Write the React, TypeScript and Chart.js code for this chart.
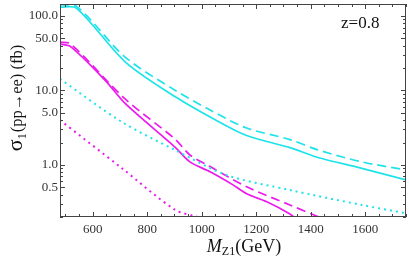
import React, { useEffect, useRef } from "react";
import { Chart, registerables } from "chart.js";

Chart.register(...registerables);

// Mass values (GeV) and cross sections (fb) per curve
const cyanSolidM = [480, 541, 719, 902, 1031, 1165, 1324, 1427, 1588, 1750];
const cyanSolidV = [132, 127, 24.3, 8.28, 4.4, 2.48, 1.71, 1.26, 0.9, 0.63];

const cyanDashM = [480, 542, 719, 902, 1031, 1165, 1324, 1427, 1588, 1750];
const cyanDashV = [142, 134, 28.1, 10.1, 5.46, 3.13, 2.19, 1.59, 1.1, 0.855];

const cyanDotM = [480, 706, 902, 1092, 1324, 1588, 1750];
const cyanDotV = [14.3, 3.8, 1.59, 0.73, 0.46, 0.29, 0.224];

const magSolidM = [480, 520, 645, 719, 902, 957, 1031, 1115, 1165, 1239, 1324, 1345];
const magSolidV = [42, 38.6, 13.8, 6.7, 1.74, 1.1, 0.81, 0.54, 0.41, 0.32, 0.22, 0.19];

const magDashM = [480, 520, 719, 902, 957, 1031, 1165, 1324, 1430];
const magDashV = [44.7, 42, 7.7, 2.23, 1.36, 0.95, 0.51, 0.29, 0.2];

const magDotM = [480, 706, 902, 985];
const magDotV = [4.0, 0.91, 0.25, 0.2];

const xMajorTicks = [600, 800, 1000, 1200, 1400, 1600];
const yLabeledTicks = [0.5, 1, 5, 10, 50, 100];
const yAllTicks = [
  0.2, 0.3, 0.4, 0.5, 0.6, 0.7, 0.8, 0.9,
  1, 2, 3, 4, 5, 6, 7, 8, 9,
  10, 20, 30, 40, 50, 60, 70, 80, 90, 100,
];

const X_MIN = 480;
const X_MAX = 1750;
const Y_MIN = 0.2;
const Y_MAX = 145;

const CYAN = "#1fe3ea";
const MAGENTA = "#ec1aec";
const SERIF = "'Liberation Serif', 'DejaVu Serif', serif";

function zip(m: number[], v: number[]) {
  return m.map((x, i) => ({ x, y: v[i] }));
}

const framePlugin = {
  id: "frameTicks",
  afterDraw(chart: any) {
    const { ctx, chartArea } = chart;
    const { left, right, top, bottom } = chartArea;
    const xs = chart.scales.x;
    const ys = chart.scales.y;
    ctx.save();
    ctx.strokeStyle = "#444";
    ctx.lineWidth = 1;
    ctx.strokeRect(left + 0.5, top + 0.5, right - left - 1, bottom - top - 1);
    ctx.beginPath();
    for (let v = 500; v <= X_MAX; v += 50) {
      const px = Math.round(xs.getPixelForValue(v)) + 0.5;
      const len = v % 200 === 0 ? 5 : 3;
      ctx.moveTo(px, bottom);
      ctx.lineTo(px, bottom - len);
      ctx.moveTo(px, top);
      ctx.lineTo(px, top + len);
    }
    for (const v of yAllTicks) {
      const py = Math.round(ys.getPixelForValue(v)) + 0.5;
      const len = yLabeledTicks.includes(v) ? 5 : 3;
      ctx.moveTo(left, py);
      ctx.lineTo(left + len, py);
      ctx.moveTo(right, py);
      ctx.lineTo(right - len, py);
    }
    ctx.stroke();

    ctx.fillStyle = "#111";
    ctx.textBaseline = "alphabetic";
    ctx.font = `17px ${SERIF}`;
    ctx.textAlign = "left";
    ctx.fillText("z=0.8", 341, 28);

    // x title
    const bigF = `italic 18px ${SERIF}`;
    const normF = `18px ${SERIF}`;
    const subF = `12px ${SERIF}`;
    ctx.font = bigF;
    const wM = ctx.measureText("M").width;
    ctx.font = subF;
    const wZ = ctx.measureText("Z1").width;
    ctx.font = normF;
    const wG = ctx.measureText("(GeV)").width;
    const total = wM + wZ + wG;
    let x0 = 244 - total / 2;
    const by = 252;
    ctx.font = bigF;
    ctx.fillText("M", x0, by);
    x0 += wM;
    ctx.font = subF;
    ctx.fillText("Z1", x0, by + 3);
    x0 += wZ;
    ctx.font = normF;
    ctx.fillText("(GeV)", x0, by);

    // y title (rotated)
    ctx.translate(22, 98);
    ctx.rotate(-Math.PI / 2);
    const sF = `22px ${SERIF}`;
    const rF = `16.5px ${SERIF}`;
    ctx.font = sF;
    const wS = ctx.measureText("σ").width;
    ctx.font = subF;
    const w1 = ctx.measureText("1").width;
    ctx.font = rF;
    const wR = ctx.measureText("(pp→ee) (fb)").width;
    let t0 = -(wS + w1 + 1 + wR) / 2;
    ctx.font = sF;
    ctx.fillText("σ", t0, 0);
    t0 += wS;
    ctx.font = subF;
    ctx.fillText("1", t0, 4);
    t0 += w1 + 1;
    ctx.font = rF;
    ctx.fillText("(pp→ee) (fb)", t0, 0);
    ctx.restore();
  },
};

export default function App() {
  const ref = useRef<HTMLCanvasElement | null>(null);

  useEffect(() => {
    document.body.style.margin = "0";
    if (!ref.current) return;
    const mk = (m: number[], v: number[], color: string, dash: number[], width: number) => ({
      data: zip(m, v),
      borderColor: color,
      borderWidth: width,
      borderDash: dash,
      pointRadius: 0,
      fill: false,
      tension: 0.3,
      borderJoinStyle: "round",
    });
    const chart = new Chart(ref.current, {
      type: "line",
      data: {
        datasets: [
          mk(cyanSolidM, cyanSolidV, CYAN, [], 1.7),
          mk(cyanDashM, cyanDashV, CYAN, [9, 5], 1.7),
          mk(cyanDotM, cyanDotV, CYAN, [2, 4], 2),
          mk(magSolidM, magSolidV, MAGENTA, [], 1.7),
          mk(magDashM, magDashV, MAGENTA, [9, 5], 1.7),
          mk(magDotM, magDotV, MAGENTA, [2, 4], 2),
        ],
      },
      options: {
        animation: false,
        responsive: true,
        maintainAspectRatio: false,
        layout: { padding: { left: 0, right: 3, top: 4, bottom: 0 } },
        plugins: { legend: { display: false }, tooltip: { enabled: false } },
        scales: {
          x: {
            type: "linear",
            min: X_MIN,
            max: X_MAX,
            grid: { display: false, drawTicks: false },
            border: { display: false },
            afterBuildTicks: (s: any) => {
              s.ticks = xMajorTicks.map((v) => ({ value: v }));
            },
            afterFit: (s: any) => {
              s.height = 42;
              s.paddingLeft = 0;
              s.paddingRight = 0;
              s.paddingTop = 0;
              s.paddingBottom = 0;
            },
            ticks: {
              autoSkip: false,
              maxRotation: 0,
              padding: 5,
              color: "#333",
              font: { family: SERIF, size: 13 },
              callback: (v: any) => String(v),
            },
          },
          y: {
            type: "logarithmic",
            min: Y_MIN,
            max: Y_MAX,
            grid: { display: false, drawTicks: false },
            border: { display: false },
            afterBuildTicks: (s: any) => {
              s.ticks = yAllTicks.map((v) => ({ value: v }));
            },
            afterFit: (s: any) => {
              s.width = 60;
              s.paddingTop = 0;
              s.paddingBottom = 0;
              s.paddingLeft = 0;
              s.paddingRight = 0;
            },
            ticks: {
              autoSkip: false,
              padding: 2,
              color: "#333",
              font: { family: SERIF, size: 13 },
              callback: (v: any) => {
                const n = Number(v);
                return yLabeledTicks.includes(n) ? n.toFixed(1) : "";
              },
            },
          },
        },
      },
      plugins: [framePlugin],
    } as any);
    return () => chart.destroy();
  }, []);

  return (
    <div style={{ position: "fixed", left: 0, top: 0, width: 409, height: 259 }}>
      <canvas ref={ref} />
    </div>
  );
}
